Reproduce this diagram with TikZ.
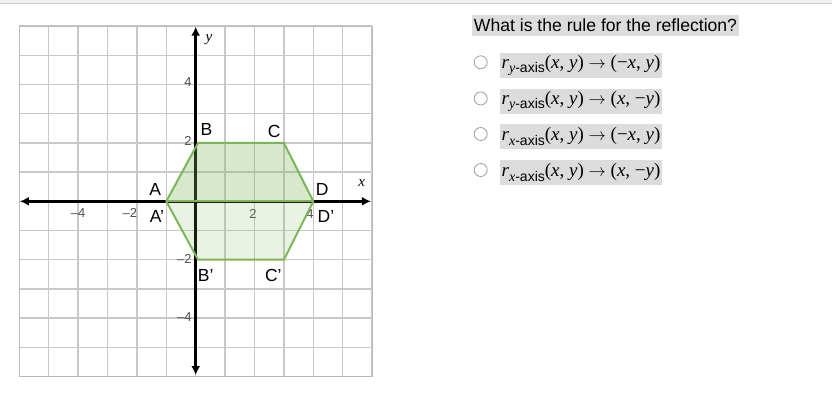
\documentclass[tikz,border=0pt]{standalone}
\usepackage{fontspec}
\setmainfont{Liberation Sans}
\newfontfamily\serif{Liberation Serif}
\usetikzlibrary{arrows.meta}
\definecolor{gridc}{HTML}{C8C8C8}
\definecolor{hexline}{HTML}{7DB65A}
\definecolor{hexfill}{HTML}{7DB65A}
\definecolor{optbg}{HTML}{DCDCDC}
\definecolor{ticktxt}{HTML}{505050}
\newcommand\rsub[1]{{\serif\itshape r}\raisebox{-4.5pt}{\fontsize{14}{14}\selectfont #1}}
\newcommand\ivar[1]{{\serif\itshape #1}}
\newcommand\rarr{{\fontsize{18}{18}\selectfont$\rightarrow$}}
\tikzset{
  ticklab/.style={font=\fontsize{13}{13}\selectfont, text=ticktxt, inner sep=1pt},
  ptlab/.style={font=\fontsize{17.5}{17.5}\selectfont, inner sep=0.5pt},
  axislab/.style={font=\fontsize{15}{15}\selectfont\serif\itshape, inner sep=0pt},
  axisline/.style={line width=2.6pt, black, {Latex[length=9pt,width=9pt]}-{Latex[length=9pt,width=9pt]}},
  hexedge/.style={hexline, line width=2pt, line join=round},
  optbox/.style={fill=optbg, anchor=west, inner xsep=1.5pt, inner ysep=0pt, minimum height=24.5pt, font=\fontsize{19}{19}\selectfont},
  radio/.style={circle, draw=gray!75, line width=0.8pt, fill=white, minimum size=13pt, inner sep=0pt}
}
\begin{document}
\begin{tikzpicture}[x=1pt,y=-1pt]
\useasboundingbox (0,0) rectangle (832,415);
\fill[white] (0,0) rectangle (832,415);
\fill[gray!12] (0,0) rectangle (832,3);
\draw[gray!40, line width=1pt] (0,3) -- (832,3);

\begin{scope}[shift={(195.7,201.3)}, x=29.4pt, y=29.2pt]
  \draw[gridc, line width=1.4pt, step={(1,1)}] (-6,-6) grid (6,6);
  \draw[gray!55, line width=1.2pt] (-6,-6) rectangle (6,6);
  % tick labels
  \node[ticklab] (tx1) at (-4.0,-0.40) {\char"2013 4};
  \node[ticklab, anchor=east] (tx2) at (-1.95,-0.40) {\char"2013 2};
  \node[ticklab] (tx3) at (1.95,-0.42) {2};
  \node[ticklab, anchor=east] (tx4) at (4.05,-0.42) {4};
  \node[ticklab, anchor=east] (ty1) at (-0.1,4.1) {4};
  \node[ticklab, anchor=east] (ty2) at (-0.1,2.05) {2};
  \node[ticklab, anchor=east] (ty3) at (-0.1,-1.98) {\char"2013 2};
  \node[ticklab, anchor=east] (ty4) at (-0.1,-3.98) {\char"2013 4};
  % axes
  \coordinate (xl) at (-5.98,0);
  \coordinate (xr) at (5.96,0);
  \coordinate (yt) at (0,5.98);
  \coordinate (yb) at (0,-5.95);
  \draw[axisline] (xl) -- (xr);
  \draw[axisline] (yb) -- (yt);
  \node[axislab] (xlab) at (5.65,0.62) {x};
  \node[axislab] (ylab) at (0.45,5.55) {y};
  % hexagon
  \coordinate (A) at (-1,0);
  \coordinate (B) at (0.08,2);
  \coordinate (C) at (3,2);
  \coordinate (D) at (4,0);
  \coordinate (Bp) at (0.08,-2);
  \coordinate (Cp) at (3,-2);
  \fill[hexfill, fill opacity=0.30] (A) -- (B) -- (C) -- (D) -- cycle;
  \fill[hexfill, fill opacity=0.17] (A) -- (Bp) -- (Cp) -- (D) -- cycle;
  \draw[hexedge] (A) -- (B) -- (C) -- (D) -- (Cp) -- (Bp) -- cycle;
  \draw[hexedge] (A) -- (D);
  % point labels
  \node[ptlab] (lA) at (-1.38,0.41) {A};
  \node[ptlab] (lAp) at (-1.32,-0.52) {A'};
  \node[ptlab] (lB) at (0.37,2.45) {B};
  \node[ptlab] (lC) at (2.67,2.40) {C};
  \node[ptlab] (lD) at (4.3,0.40) {D};
  \node[ptlab, fill=white] (lDp) at (4.43,-0.52) {D'};
  \node[ptlab] (lBp) at (0.34,-2.55) {B'};
  \node[ptlab] (lCp) at (2.64,-2.55) {C'};
\end{scope}

% question
\node[fill=optbg, anchor=west, inner xsep=2pt, inner ysep=0pt, minimum height=21pt, font=\fontsize{17.6}{17.6}\selectfont] (q) at (471.7,25.5) {What is the rule for the reflection?};

% options
\node[radio] (r1) at (480.7,62.3) {};
\node[radio] (r2) at (480.7,98.5) {};
\node[radio] (r3) at (480.7,134) {};
\node[radio] (r4) at (480.7,170) {};
\node[optbox] (o1) at (500,65.3) {\rsub{\ivar{y}-axis}\serif(\ivar{x}, \ivar{y}) \rarr{} (−\ivar{x}, \ivar{y})};
\node[optbox] (o2) at (500,101.5) {\rsub{\ivar{y}-axis}\serif(\ivar{x}, \ivar{y}) \rarr{} (\ivar{x}, −\ivar{y})};
\node[optbox] (o3) at (500,136.5) {\rsub{\ivar{x}-axis}\serif(\ivar{x}, \ivar{y}) \rarr{} (−\ivar{x}, \ivar{y})};
\node[optbox] (o4) at (500,172.5) {\rsub{\ivar{x}-axis}\serif(\ivar{x}, \ivar{y}) \rarr{} (\ivar{x}, −\ivar{y})};
\end{tikzpicture}
\end{document}
